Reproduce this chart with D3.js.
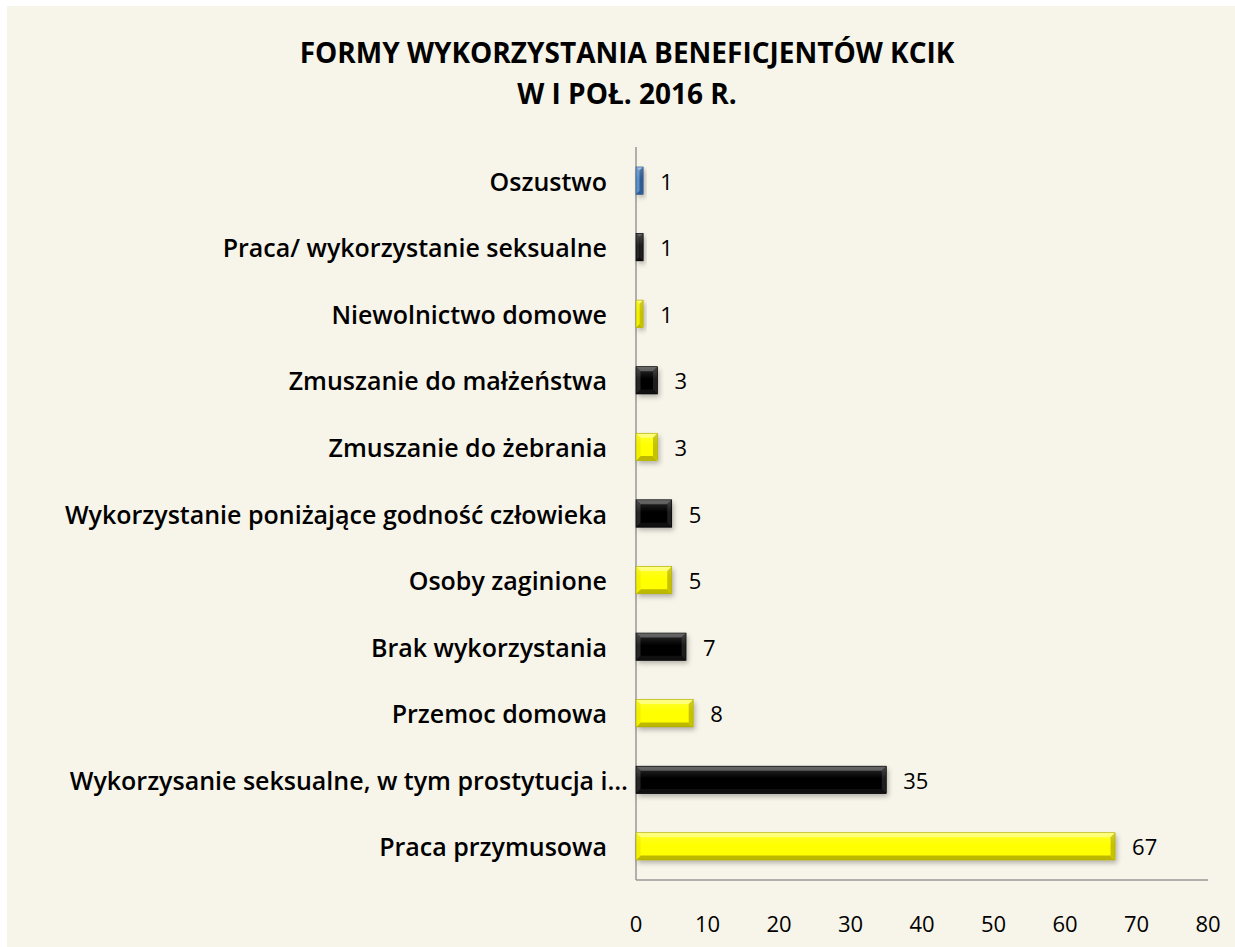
<!DOCTYPE html>
<html>
<head>
<meta charset="utf-8">
<script src="https://cdn.jsdelivr.net/npm/d3@7"></script>
<style>
  body { margin: 0; background: #ffffff; }
  #chart { width: 1235px; height: 947px; }
  .cat-label { font-family: "Open Sans", "Noto Sans", sans-serif; font-weight: 600; font-size: 25px; fill: #000; }
  .val-label { font-family: "Open Sans", "Noto Sans", sans-serif; font-size: 22px; fill: #000; }
  .tick-label { font-family: "Open Sans", "Noto Sans", sans-serif; font-size: 22px; fill: #000; }
  .chart-title { font-family: "Open Sans", "Noto Sans", sans-serif; font-weight: 700; font-size: 28px; fill: #000; }
</style>
</head>
<body>
<div id="chart"></div>
<script>

// categories, top to bottom
const categories = [
    "Oszustwo",
    "Praca/ wykorzystanie seksualne",
    "Niewolnictwo domowe",
    "Zmuszanie do małżeństwa",
    "Zmuszanie do żebrania",
    "Wykorzystanie poniżające godność człowieka",
    "Osoby zaginione",
    "Brak wykorzystania",
    "Przemoc domowa",
    "Wykorzysanie seksualne, w tym prostytucja i…",
    "Praca przymusowa"
];
const values = [1, 1, 1, 3, 3, 5, 5, 7, 8, 35, 67];
const barColors = ["blue", "black", "yellow", "black", "yellow", "black", "yellow", "black", "yellow", "black", "yellow"];
const xTicks = [0, 10, 20, 30, 40, 50, 60, 70, 80];
const titleLines = ["FORMY WYKORZYSTANIA BENEFICJENTÓW KCIK", "W I POŁ. 2016 R."];

// bevel shades per colour
const palette = {
    yellow: {base: "#ffff00", top: "#ffff66", bottom: "#bdb900", left: "#f2f000", right: "#c6c200", edge: "#aaa600"},
    black:  {base: "#040404", top: "#484848", bottom: "#101010", left: "#262626", right: "#1e1e1e", edge: "#000"},
    blue:   {base: "#4f81bd", top: "#8fb1dc", bottom: "#2e5a8e", left: "#5f8fca", right: "#2f5b90", edge: "#2a5285"}
};

const width = 1235, height = 947;
const margin = {top: 147, right: 27, bottom: 67, left: 636};

const svg = d3.select("#chart").append("svg")
    .attr("width", width)
    .attr("height", height);

// drop shadow under the bars
const defs = svg.append("defs");
const shadow = defs.append("filter")
    .attr("id", "shadow")
    .attr("x", "-20%").attr("y", "-40%")
    .attr("width", "160%").attr("height", "200%");
shadow.append("feDropShadow")
    .attr("dx", 2).attr("dy", 3)
    .attr("stdDeviation", 2.5)
    .attr("flood-color", "#000")
    .attr("flood-opacity", 0.28);

// top gradient for the bevel face
const grad = defs.append("linearGradient")
    .attr("id", "topShade")
    .attr("x1", 0).attr("y1", 0).attr("x2", 0).attr("y2", 1);
grad.append("stop").attr("offset", "0%").attr("stop-color", "#fff").attr("stop-opacity", 0.18);
grad.append("stop").attr("offset", "45%").attr("stop-color", "#fff").attr("stop-opacity", 0.0);

// background panel
svg.append("rect")
    .attr("x", 7).attr("y", 6)
    .attr("width", width - 7).attr("height", height - 6)
    .attr("fill", "#f7f4e9");

// title
svg.selectAll("text.chart-title")
    .data(titleLines)
    .enter().append("text")
    .attr("class", "chart-title")
    .attr("x", 627)
    .attr("y", (d, i) => 52 + i * 41)
    .attr("text-anchor", "middle")
    .attr("dominant-baseline", "central")
    .text(d => d);

// scales
const x = d3.scaleLinear()
    .domain([0, 80])
    .range([margin.left, width - margin.right]);

const y = d3.scaleBand()
    .domain(categories)
    .range([margin.top, height - margin.bottom])
    .paddingInner(0.59)
    .paddingOuter(0.3);

// axis lines
svg.append("line")
    .attr("x1", x(0)).attr("x2", x(0))
    .attr("y1", margin.top).attr("y2", height - margin.bottom)
    .attr("stroke", "#999").attr("stroke-width", 1.5);
svg.append("line")
    .attr("x1", x(0)).attr("x2", x(80))
    .attr("y1", height - margin.bottom).attr("y2", height - margin.bottom)
    .attr("stroke", "#999").attr("stroke-width", 1.5);

// tick labels
svg.selectAll("text.tick-label")
    .data(xTicks)
    .enter().append("text")
    .attr("class", "tick-label")
    .attr("x", d => x(d))
    .attr("y", height - margin.bottom + 43)
    .attr("text-anchor", "middle")
    .attr("dominant-baseline", "central")
    .text(d => d);

// category labels (the truncated one sits closer to the axis)
svg.selectAll("text.cat-label")
    .data(categories)
    .enter().append("text")
    .attr("class", "cat-label")
    .attr("x", d => d.endsWith("…") ? x(0) - 8 : x(0) - 29)
    .attr("y", d => y(d) + y.bandwidth() / 2)
    .attr("text-anchor", "end")
    .attr("dominant-baseline", "central")
    .text(d => d);

// bars
const bars = svg.selectAll("g.bar")
    .data(categories.map((c, i) => ({cat: c, value: values[i], color: barColors[i]})))
    .enter().append("g")
    .attr("class", "bar");

bars.append("rect")
    .attr("x", x(0))
    .attr("y", d => y(d.cat))
    .attr("width", d => x(d.value) - x(0))
    .attr("height", y.bandwidth())
    .attr("fill", d => palette[d.color].base)
    .attr("filter", "url(#shadow)");

// bevel faces
const faces = ["top", "bottom", "left", "right"];
bars.each(function(d) {
    const g = d3.select(this);
    const x0 = x(0), x1 = x(d.value);
    const y0 = y(d.cat), y1 = y0 + y.bandwidth();
    const b = Math.min(4.5, (x1 - x0) / 2, (y1 - y0) / 2);
    const pts = {
        top:    [[x0, y0], [x1, y0], [x1 - b, y0 + b], [x0 + b, y0 + b]],
        bottom: [[x0, y1], [x1, y1], [x1 - b, y1 - b], [x0 + b, y1 - b]],
        left:   [[x0, y0], [x0 + b, y0 + b], [x0 + b, y1 - b], [x0, y1]],
        right:  [[x1, y0], [x1 - b, y0 + b], [x1 - b, y1 - b], [x1, y1]]
    };
    faces.forEach(f => {
        g.append("polygon")
            .attr("points", pts[f].map(p => p.join(",")).join(" "))
            .attr("fill", palette[d.color][f]);
    });
    g.append("rect")
        .attr("x", x0).attr("y", y0)
        .attr("width", x1 - x0).attr("height", y1 - y0)
        .attr("fill", "url(#topShade)");
    g.append("rect")
        .attr("x", x0).attr("y", y0)
        .attr("width", x1 - x0).attr("height", y1 - y0)
        .attr("fill", "none")
        .attr("stroke", palette[d.color].edge)
        .attr("stroke-width", 0.6);
});

// value labels
svg.selectAll("text.val-label")
    .data(categories)
    .enter().append("text")
    .attr("class", "val-label")
    .attr("x", (d, i) => x(values[i]) + 17)
    .attr("y", d => y(d) + y.bandwidth() / 2)
    .attr("dominant-baseline", "central")
    .text((d, i) => values[i]);

</script>
</body>
</html>
